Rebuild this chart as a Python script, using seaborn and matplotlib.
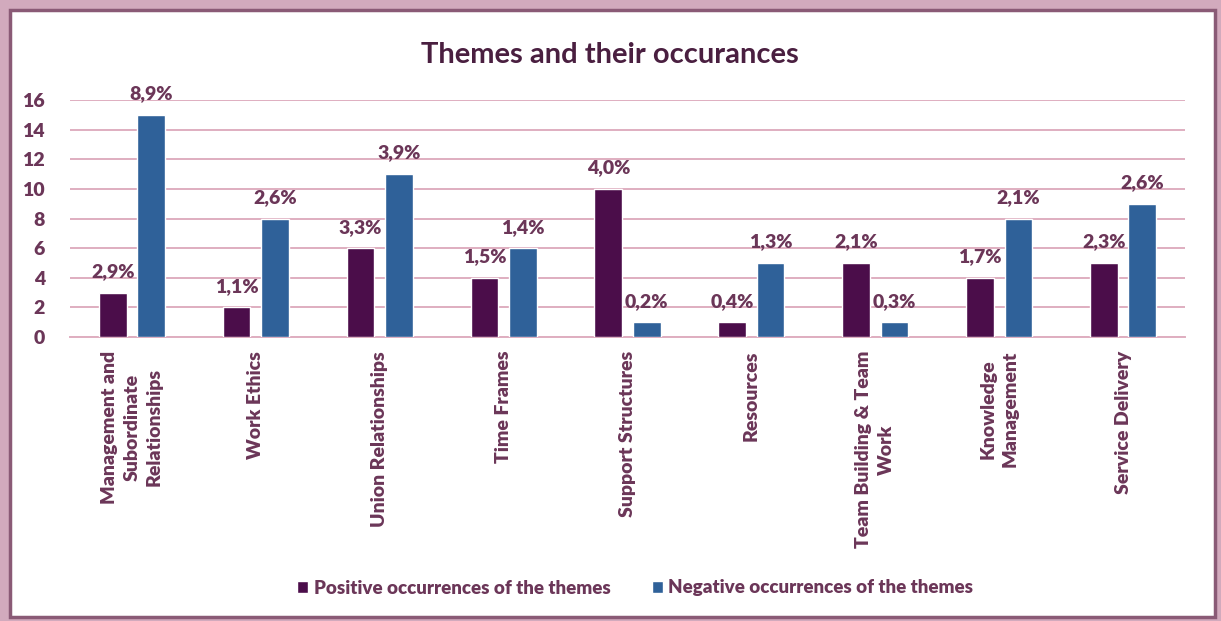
import matplotlib
matplotlib.use("Agg")
import matplotlib.pyplot as plt
import matplotlib.patches as mpatches
import seaborn as sns
import pandas as pd

# Data
themes = [
    "Management and\nSubordinate\nRelationships",
    "Work Ethics",
    "Union Relationships",
    "Time Frames",
    "Support Structures",
    "Resources",
    "Team Building & Team\nWork",
    "Knowledge\nManagement",
    "Service Delivery",
]
positive_counts = [3, 2, 6, 4, 10, 1, 5, 4, 5]
negative_counts = [15, 8, 11, 6, 1, 5, 1, 8, 9]
positive_pct = ["2,9%", "1,1%", "3,3%", "1,5%", "4,0%", "0,4%", "2,1%", "1,7%", "2,3%"]
negative_pct = ["8,9%", "2,6%", "3,9%", "1,4%", "0,2%", "1,3%", "0,3%", "2,1%", "2,6%"]
series_names = ["Positive occurrences of the themes", "Negative occurrences of the themes"]
y_ticks = [0, 2, 4, 6, 8, 10, 12, 14, 16]
title = "Themes and their occurances"

df = pd.DataFrame({
    "theme": themes * 2,
    "series": [series_names[0]] * len(themes) + [series_names[1]] * len(themes),
    "count": positive_counts + negative_counts,
})

sns.set_theme(style="white")
plt.rcParams["font.family"] = ["Lato", "DejaVu Sans"]

TEXT = "#6b3658"
TITLE = "#4a1f40"
GRID = "#dfaec0"
POS = "#4b0d4a"
NEG = "#2f6199"
WEIGHT = "heavy"

W, H = 1221, 621
fig = plt.figure(figsize=(W / 100, H / 100), dpi=100)
fig.patch.set_facecolor("#d2aabd")

# white panel with a dark mauve frame, kept behind the axes
panel = mpatches.Rectangle((10 / W, 4 / H), 1205 / W, 607 / H, transform=fig.transFigure,
                           facecolor="white", edgecolor="#8a5a76", linewidth=2.5, zorder=-10)
fig.patches.append(panel)

ax = fig.add_axes([70 / W, 284 / H, 1115 / W, 237 / H])
ax.set_facecolor("none")

sns.barplot(data=df, x="theme", y="count", hue="series", hue_order=series_names,
            palette=[POS, NEG], width=0.62, gap=0.28, saturation=1, ax=ax, zorder=3)

ax.set_ylim(0, 16)
ax.set_xlim(-0.5, len(themes) - 0.5)
ax.set_yticks(y_ticks)
ax.set_yticklabels([str(t) for t in y_ticks], fontsize=14, fontweight=WEIGHT, color=TEXT)
ax.yaxis.grid(True, color=GRID, linewidth=1.4, zorder=0)
ax.set_axisbelow(True)
ax.tick_params(axis="y", length=0, pad=18)
ax.tick_params(axis="x", length=0, pad=10)
for s in ["top", "right", "left"]:
    ax.spines[s].set_visible(False)
ax.spines["bottom"].set_color(GRID)
ax.spines["bottom"].set_linewidth(1.4)

ax.set_xticks(range(len(themes)))
ax.set_xticklabels(themes, rotation=90, fontsize=14, fontweight=WEIGHT, color=TEXT,
                   ha="center", va="top", multialignment="center", linespacing=1.4)
ax.set_xlabel("")
ax.set_ylabel("")

for cont, labels in zip(ax.containers, [positive_pct, negative_pct]):
    ax.bar_label(cont, labels=labels, padding=9, fontsize=14, fontweight=WEIGHT,
                 color=TEXT, clip_on=False)

leg = ax.legend(loc="center", bbox_to_anchor=(635 / W, 33 / H), bbox_transform=fig.transFigure,
                ncol=2, frameon=False, handlelength=0.6, handleheight=0.6,
                handletextpad=0.3, columnspacing=2.2, fontsize=13.5)
for t in leg.get_texts():
    t.set_color(TEXT)
    t.set_fontweight(WEIGHT)

fig.text(610 / W, 1 - 55 / H, title, ha="center", va="center", fontsize=21,
         color=TITLE, fontweight="bold")

fig.savefig("out.png", dpi=100, facecolor=fig.get_facecolor())
